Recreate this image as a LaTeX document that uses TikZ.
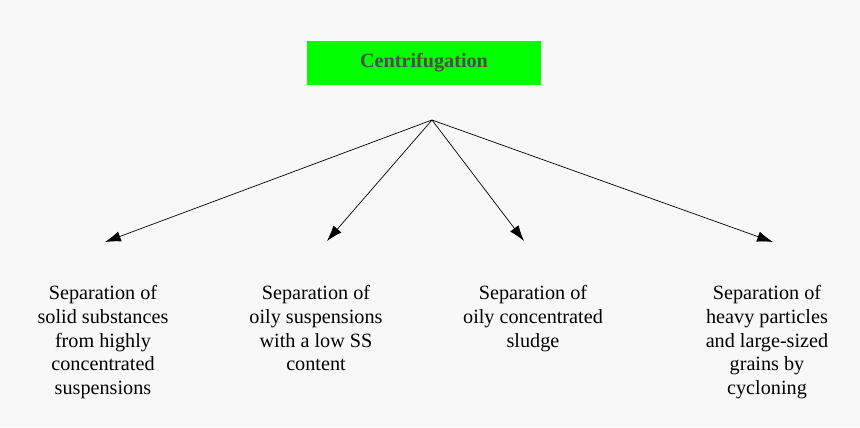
\documentclass[tikz,border=0pt]{standalone}
\usepackage{fontspec}
\setmainfont{Liberation Serif}
\usetikzlibrary{positioning,arrows.meta}
\definecolor{bggray}{RGB}{248,248,248}
\definecolor{boxgreen}{RGB}{0,255,0}
\begin{document}
\begin{tikzpicture}[x=0.02cm,y=-0.02cm,>={Latex[length=9pt,width=6pt]},font=\rmfamily\fontsize{11.5}{13.5}\selectfont]
    \tikzstyle{leaf}=[align=center,anchor=north,inner sep=0pt]
    \fill[bggray] (0,0) rectangle (860,427);
    \useasboundingbox (0,0) rectangle (860,427);

    \node[fill=boxgreen,minimum width=4.68cm,minimum height=0.88cm,font=\rmfamily\bfseries\fontsize{11.5}{13.5}\selectfont,text=black!70] (cent) at (424,63) {Centrifugation};
    \coordinate (top) at (432,120);

    \node[leaf] (t1) at (103,285) {Separation of\\solid substances\\from highly\\concentrated\\suspensions};
    \node[leaf] (t2) at (316,285) {Separation of\\oily suspensions\\with a low SS\\content};
    \node[leaf] (t3) at (533,285) {Separation of\\oily concentrated\\sludge};
    \node[leaf] (t4) at (767,285) {Separation of\\heavy particles\\and large-sized\\grains by\\cycloning};

    \coordinate (e1) at (105,242);
    \coordinate (e2) at (327,241);
    \coordinate (e3) at (524,241);
    \coordinate (e4) at (773,242);

    \draw[->] (top) -- (e1);
    \draw[->] (top) -- (e2);
    \draw[->] (top) -- (e3);
    \draw[->] (top) -- (e4);
\end{tikzpicture}
\end{document}
